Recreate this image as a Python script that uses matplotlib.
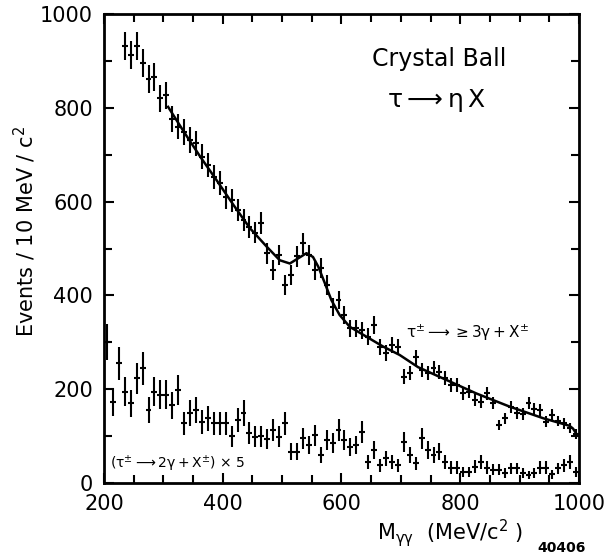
import numpy as np
import matplotlib

matplotlib.use("Agg")
import matplotlib.pyplot as plt
from matplotlib.ticker import MultipleLocator

plt.rcParams["mathtext.default"] = "regular"

# tau -> >=3 gamma + X (events / 10 MeV)
upper_mass = [
    235, 245, 255, 265, 275, 285, 295, 305, 315, 325, 335, 345, 355, 365, 375,
    385, 395, 405, 415, 425, 435, 445, 455, 465, 475, 485, 495, 505, 515, 525,
    535, 545, 555, 565, 575, 585, 595, 605, 615, 625, 635, 645, 655, 665, 675,
    685, 695, 705, 715, 725, 735, 745, 755, 765, 775, 785, 795, 805, 815, 825,
    835, 845, 855, 865, 875, 885, 895, 905, 915, 925, 935, 945, 955, 965, 975,
    985, 995,
]
upper_counts = [
    932, 913, 932, 895, 861, 866, 820, 827, 777, 760, 749, 731, 724, 696, 678,
    653, 639, 609, 603, 582, 561, 545, 534, 554, 490, 454, 486, 422, 443, 483,
    511, 486, 454, 458, 422, 376, 390, 358, 330, 330, 326, 312, 337, 291, 277,
    294, 291, 227, 234, 268, 241, 234, 245, 237, 223, 209, 209, 191, 195, 177,
    173, 191, 170, 124, 138, 163, 149, 147, 170, 158, 156, 131, 145, 132, 127,
    117, 104,
]

# tau -> 2 gamma + X, scaled by 5
lower_mass = [
    205, 215, 225, 235, 245, 255, 265, 275, 285, 295, 305, 315, 325, 335, 345,
    355, 365, 375, 385, 395, 405, 415, 425, 435, 445, 455, 465, 475, 485, 495,
    505, 515, 525, 535, 545, 555, 565, 575, 585, 595, 605, 615, 625, 635, 645,
    655, 665, 675, 685, 695, 705, 715, 725, 735, 745, 755, 765, 775, 785, 795,
    805, 815, 825, 835, 845, 855, 865, 875, 885, 895, 905, 915, 925, 935, 945,
    955, 965, 975, 985, 995,
]
lower_counts = [
    300, 173, 255, 195, 170, 223, 245, 156, 195, 188, 188, 166, 198, 127, 149,
    156, 131, 138, 127, 127, 127, 100, 134, 149, 106, 99, 100, 93, 113, 99,
    127, 67, 67, 95, 81, 102, 60, 92, 85, 113, 92, 77, 81, 109, 45,
    70, 38, 53, 45, 38, 88, 60, 42, 95, 70, 60, 67, 45, 33, 33,
    24, 24, 35, 45, 33, 28, 28, 21, 31, 31, 21, 17, 21, 33, 33,
    19, 31, 38, 45, 24,
]
lower_scale = 5

# fitted curve (background + eta peak)
fit_mass = [
    308, 335, 362, 390, 418, 446, 474, 496, 513, 527, 541, 552, 561, 572, 583,
    597, 614, 642, 670, 698, 729, 771, 827, 883, 940, 984, 990, 996,
]
fit_counts = [
    802, 748, 696, 645, 593, 543, 504, 475, 468, 479, 490, 482, 461, 426, 390,
    358, 333, 312, 291, 273, 247, 223, 191, 163, 138, 122, 116, 104,
]

x_ticks = [200, 400, 600, 800, 1000]
y_ticks = [0, 200, 400, 600, 800, 1000]

upper_err = np.sqrt(upper_counts)
lower_err = np.sqrt(np.array(lower_counts) * lower_scale)

fig = plt.figure(figsize=(6.06, 5.56), dpi=100)
ax = fig.add_axes([0.1716, 0.1313, 0.7838, 0.8435])

ax.errorbar(upper_mass, upper_counts, yerr=upper_err, xerr=5, fmt="none",
            ecolor="black", elinewidth=1.5, capsize=0)
ax.errorbar(lower_mass, lower_counts, yerr=lower_err, xerr=5, fmt="none",
            ecolor="black", elinewidth=1.5, capsize=0)
ax.plot(fit_mass, fit_counts, color="black", linewidth=1.8)

ax.set_xlim(200, 1000)
ax.set_ylim(0, 1000)
ax.set_xticks(x_ticks)
ax.set_yticks(y_ticks)
ax.xaxis.set_minor_locator(MultipleLocator(50))
ax.yaxis.set_minor_locator(MultipleLocator(100))
ax.tick_params(which="both", direction="in", top=True, right=True,
               width=1.5, labelsize=15)
ax.tick_params(which="major", length=7)
ax.tick_params(which="minor", length=6)
ax.tick_params(axis="x", pad=8)
ax.tick_params(axis="y", pad=8)
for spine in ax.spines.values():
    spine.set_linewidth(2)

ax.text(0.705, 0.905, "Crystal Ball", transform=ax.transAxes, fontsize=17,
        ha="center", va="center")
ax.text(0.70, 0.815, r"$\tau \longrightarrow \eta\,X$", transform=ax.transAxes,
        fontsize=18, ha="center", va="center")
ax.text(0.765, 0.32, r"$\tau^{\pm} \longrightarrow \geq 3\gamma + X^{\pm}$",
        transform=ax.transAxes, fontsize=11, ha="center", va="center")
ax.text(0.012, 0.04, r"($\tau^{\pm} \longrightarrow 2\gamma + X^{\pm}$) $\times$ 5",
        transform=ax.transAxes, fontsize=10, ha="left", va="center")

fig.text(25 / 606, 0.583, "Events / 10 MeV / c$^2$", fontsize=15,
         rotation=90, ha="center", va="center")
fig.text(0.743, 0.041, r"M$_{\gamma\gamma}$  (MeV/c$^2$ )", fontsize=15,
         ha="center", va="center")
fig.text(0.926, 0.014, "40406", fontsize=10, ha="center", va="center",
         fontweight="bold")

fig.savefig("out.png", dpi=100)
